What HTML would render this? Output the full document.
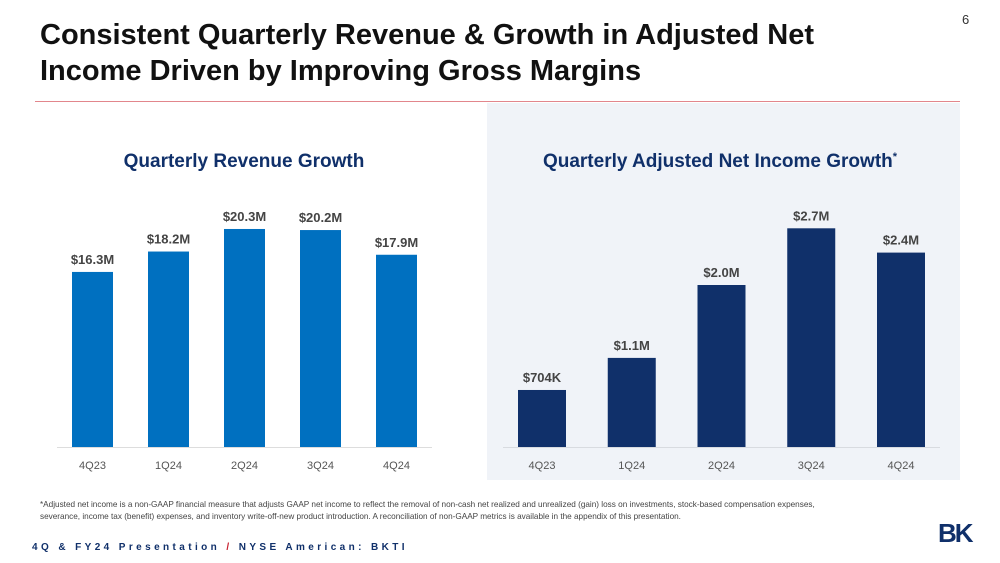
<!DOCTYPE html>
<html><head><meta charset="utf-8"><style>
body{margin:0;width:1000px;height:563px;background:#fff;position:relative;overflow:hidden;font-family:"Liberation Sans",sans-serif}
.abs{position:absolute}
</style></head><body>
<div class="abs" style="left:40px;top:17px;font-size:29px;font-weight:bold;color:#111;line-height:36px">Consistent Quarterly Revenue &amp; Growth in Adjusted Net<br>Income Driven by Improving Gross Margins</div>
<div class="abs" style="left:962px;top:12px;font-size:13px;color:#333">6</div>
<div class="abs" style="left:35px;top:101px;width:925px;height:1px;background:#e2868c"></div>
<div class="abs" style="left:487px;top:103px;width:473px;height:377px;background:#f0f3f8"></div>
<svg class="abs" style="left:0;top:0" width="1000" height="563">
<text x="244" y="167" text-anchor="middle" font-size="19" font-weight="bold" fill="#10306a">Quarterly Revenue Growth</text>
<text x="720" y="167" text-anchor="middle" font-size="19" font-weight="bold" fill="#10306a">Quarterly Adjusted Net Income Growth<tspan font-size="11" dy="-7">*</tspan></text>
<g id="left"></g><g id="right"></g>
</svg>
<div class="abs" style="left:40px;top:499px;font-size:8.2px;color:#444;line-height:12px;width:800px">*Adjusted net income is a non-GAAP financial measure that adjusts GAAP net income to reflect the removal of non-cash net realized and unrealized (gain) loss on investments, stock-based compensation expenses, severance, income tax (benefit) expenses, and inventory write-off-new product introduction. A reconciliation of non-GAAP metrics is available in the appendix of this presentation.</div>
<div class="abs" style="left:32px;top:542px;font-size:10px;font-weight:bold;letter-spacing:3.4px;color:#10306a">4Q &amp; FY24 Presentation <span style="color:#c8202f">/</span> NYSE American: BKTI</div>
<div class="abs" style="left:938px;top:520px;font-size:26px;font-weight:bold;color:#10306a;letter-spacing:-2px;line-height:26px">BK</div>
<script>
const categories=["4Q23","1Q24","2Q24","3Q24","4Q24"];
const revenue=[16.3,18.2,20.3,20.2,17.9];
const revenueLabels=["$16.3M","$18.2M","$20.3M","$20.2M","$17.9M"];
const netIncome=[0.704,1.1,2.0,2.7,2.4];
const netIncomeLabels=["$704K","$1.1M","$2.0M","$2.7M","$2.4M"];
const NS="http://www.w3.org/2000/svg";
function draw(g,vals,labels,x0,step,bw,pxPer,color,axisColor,prefix){
  const base=447;
  const axis=document.createElementNS(NS,"line");
  
  
  axis.setAttribute("x1",x0-15);axis.setAttribute("x2",x0+step*4+bw+15);
  axis.setAttribute("y1",base+0.5);axis.setAttribute("y2",base+0.5);axis.setAttribute("stroke",axisColor);
  g.appendChild(axis);
  vals.forEach((v,i)=>{
    const x=x0+i*step,h=v*pxPer;
    const r=document.createElementNS(NS,"rect");
    
    
    r.setAttribute("x",x);r.setAttribute("y",base-h);r.setAttribute("width",bw);r.setAttribute("height",h);r.setAttribute("fill",color);
    g.appendChild(r);
    const t=document.createElementNS(NS,"text");
    
    
    t.setAttribute("x",x+bw/2);t.setAttribute("y",base-h-8);t.setAttribute("text-anchor","middle");
    t.setAttribute("font-size","13");t.setAttribute("font-weight","bold");t.setAttribute("fill","#444");
    t.textContent=labels[i];g.appendChild(t);
    const c=document.createElementNS(NS,"text");
    
    
    c.setAttribute("x",x+bw/2);c.setAttribute("y",469);c.setAttribute("text-anchor","middle");
    c.setAttribute("font-size","11");c.setAttribute("fill","#555");
    c.textContent=categories[i];g.appendChild(c);
  });
}
draw(document.getElementById("left"),revenue,revenueLabels,72,76,41,10.74,"#0070c0","#ddd","revenue");
draw(document.getElementById("right"),netIncome,netIncomeLabels,518,89.75,48,81,"#10306a","#d8dbe0","net-income");
</script>
</body></html>
